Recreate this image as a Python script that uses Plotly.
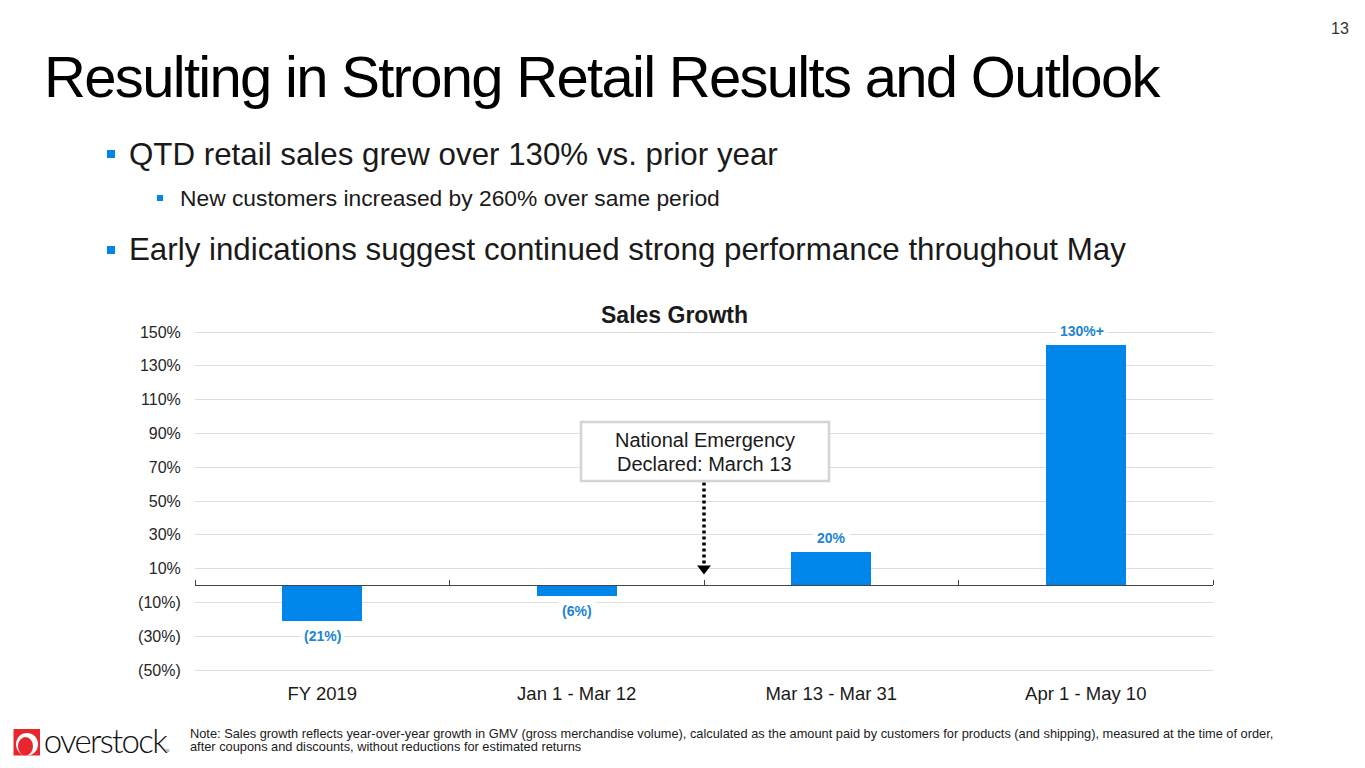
import plotly.graph_objects as go

W, H = 1365, 768
categories = ["FY 2019", "Jan 1 - Mar 12", "Mar 13 - Mar 31", "Apr 1 - May 10"]
growth = [-21, -6, 20, 142.3]
value_labels = ["(21%)", "(6%)", "20%", "130%+"]
y_ticks = [150, 130, 110, 90, 70, 50, 30, 10, -10, -30, -50]
y_tick_labels = ["150%", "130%", "110%", "90%", "70%", "50%", "30%", "10%", "(10%)", "(30%)", "(50%)"]
event_lines = ["National Emergency", "Declared: March 13"]
event_boundary = 2
event_line_top = 61
event_arrow_value = 10

BLUE = "#0086EB"
LABEL_BLUE = "#2284D2"
GRID = "#DDDDDD"
FONT = "Liberation Sans"
TXT = "#1a1a1a"


def px(x):
    return x / W


def py(y):
    return 1 - y / H


fig = go.Figure()
fig.add_trace(go.Bar(x=categories, y=growth, marker=dict(color=BLUE, line_width=0), width=0.314,
                     xaxis="x", yaxis="y", hoverinfo="skip"))
fig.add_trace(go.Scatter(x=[event_boundary], y=[event_arrow_value], xaxis="x2", yaxis="y", mode="markers",
                         marker=dict(symbol="triangle-down", size=12, color="black"), hoverinfo="skip"))

shapes = [
    dict(type="line", xref="x2", yref="y", x0=event_boundary, x1=event_boundary,
         y0=event_line_top, y1=event_arrow_value, line=dict(color="black", width=3.5, dash="3px,3px")),
    dict(type="rect", xref="paper", yref="paper", x0=px(581), x1=px(829), y0=py(422), y1=py(481),
         fillcolor="white", line=dict(color="#D4D4D4", width=2.5)),
]


def bullet(x, y, s):
    shapes.append(dict(type="rect", xref="paper", yref="paper", x0=px(x), x1=px(x + s), y0=py(y), y1=py(y + s),
                       fillcolor=BLUE, line_width=0))


bullet(107, 150, 8)
bullet(157, 195, 6)
bullet(107, 246, 8)

# logo
shapes.append(dict(type="rect", xref="paper", yref="paper", x0=px(13.5), x1=px(40), y0=py(729), y1=py(755.5),
                   fillcolor="#E8262E", line_width=0))
shapes.append(dict(type="circle", xref="paper", yref="paper", x0=px(16), x1=px(38), y0=py(733), y1=py(755.5),
                   fillcolor="white", line_width=0))
shapes.append(dict(type="circle", xref="paper", yref="paper", x0=px(18), x1=px(33), y0=py(737), y1=py(755.5),
                   fillcolor="#E8262E", line_width=0))

annotations = []


def text(x, y, s, size, anchor="left", color=TXT, bold=False, yanchor="middle", family=FONT, weight=None):
    annotations.append(dict(xref="paper", yref="paper", x=px(x), y=py(y), text=s, showarrow=False,
                            xanchor=anchor, yanchor=yanchor,
                            font=dict(family=family, size=size, color=color,
                                      weight=weight if weight else ("bold" if bold else "normal")),
                            borderpad=0, borderwidth=0))


text(602, 76, "Resulting in Strong Retail Results and Outlook", 58, anchor="center", color="#000000")
text(1349, 29, "13", 16, anchor="right", color="#333333")
text(129, 154, "QTD retail sales grew over 130% vs. prior year", 31.3)
text(180, 198, "New customers increased by 260% over same period", 22.8)
text(129, 250, "Early indications suggest continued strong performance throughout May", 31.3)
text(674, 315, "Sales Growth", 23, anchor="center", bold=True)
text(190, 733, "Note: Sales growth reflects year-over-year growth in GMV (gross merchandise volume), calculated as the amount paid by customers for products (and shipping), measured at the time of order,", 12.8)
text(190, 746, "after coupons and discounts, without reductions for estimated returns", 12.8)
text(104.5, 740, "overstock", 33, anchor="center", family="Lato", weight=300, color="#111111")
text(165, 751, "TM", 3, anchor="left", color="#555555")
text(704.5, 440, event_lines[0], 20, anchor="center")
text(704.5, 464, event_lines[1], 20, anchor="center")

for c, v, lab in zip(categories, growth, value_labels):
    annotations.append(dict(xref="x", yref="y", x=c, y=v, text=lab, showarrow=False,
                            yshift=14 if v > 0 else -15, xshift=-4 if lab.endswith("+") else 0,
                            xanchor="center", yanchor="middle", bgcolor="white", borderpad=3,
                            font=dict(family=FONT, size=14, color=LABEL_BLUE, weight="bold")))

y_range = [-50.8, 150.8]
domain_x = [px(195), px(1213)]
domain_y = [py(671.35), py(330.65)]

fig.update_layout(
    width=W, height=H, margin=dict(l=0, r=0, t=0, b=0, pad=0), paper_bgcolor="white", plot_bgcolor="white",
    showlegend=False, bargap=0, shapes=shapes, annotations=annotations,
    font=dict(family=FONT, color=TXT),
    xaxis=dict(domain=domain_x, type="category", categoryorder="array", categoryarray=categories,
               range=[-0.5, 3.5], showgrid=False, zeroline=False, showline=False, automargin=False,
               ticks="outside", ticklen=5, tickcolor="rgba(0,0,0,0)", tickfont=dict(size=18.5, color=TXT),
               fixedrange=True),
    xaxis2=dict(domain=domain_x, overlaying="x", anchor="free", automargin=False,
                position=(0 - y_range[0]) / (y_range[1] - y_range[0]) * (domain_y[1] - domain_y[0]) + domain_y[0],
                side="top", range=[0, 4], tickvals=[0, 1, 2, 3, 4], showticklabels=False, ticks="outside", ticklen=5,
                tickwidth=1, tickcolor="#444444", showline=True, linecolor="#444444", linewidth=1.2,
                showgrid=False, zeroline=False, fixedrange=True),
    yaxis=dict(domain=domain_y, range=y_range, tickvals=y_ticks, ticktext=y_tick_labels, showgrid=True,
               gridcolor=GRID, gridwidth=1, zeroline=False, showline=False, ticks="outside", ticklen=10,
               automargin=False, tickcolor="rgba(0,0,0,0)", tickfont=dict(size=16, color="#262626"), fixedrange=True),
)

fig.write_html("out.html", config={"displayModeBar": False},
               post_script="document.body.style.margin='0';document.body.style.overflow='hidden';"
                           "document.querySelectorAll('.annotation-text').forEach(function(t){"
                           "if(t.textContent.indexOf('Resulting')===0){t.style.letterSpacing='-1.7px';}"
                           "if(t.textContent==='overstock'){t.style.letterSpacing='-1.7px';}});")
